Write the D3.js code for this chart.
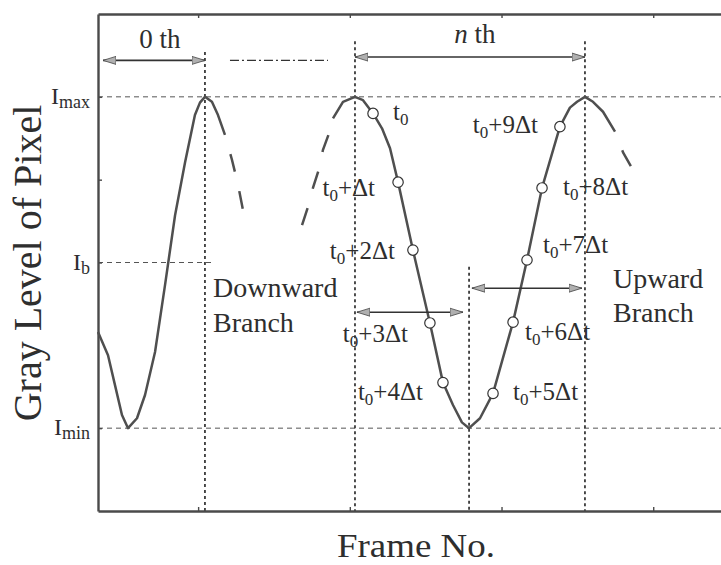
<!DOCTYPE html>
<html>
<head>
<meta charset="utf-8">
<script src="https://cdn.jsdelivr.net/npm/d3@7"></script>
<style>
  body { margin: 0; background: #fff; }
  text { font-family: "Liberation Serif", "Times New Roman", serif; fill: #2e2e2e; }
</style>
</head>
<body>
<svg id="chart" width="721" height="565"></svg>
<script>
// ---- gray level trace: frame number vs. gray level (Imin = 1, Ib = 3, Imax = 5) ----
// 0th cycle, drawn solid
const cycle0Frames = [3.40, 4.06, 4.52, 4.98, 5.38, 5.97, 6.50, 7.16, 7.82, 8.48, 9.14, 9.79, 10.12, 10.45, 10.91, 11.31, 11.77];
const cycle0Levels = [2.16, 1.88, 1.52, 1.16, 1.00, 1.12, 1.40, 1.92, 2.73, 3.57, 4.21, 4.78, 4.93, 5.00, 4.94, 4.78, 4.54];
// continuation after the 0th peak, drawn dashed
const cycle0TailFrames = [11.77, 12.23, 12.63, 12.96];
const cycle0TailLevels = [4.54, 4.24, 3.94, 3.63];
// approach to the nth peak, drawn dashed
const cycleNLeadFrames = [16.85, 17.24, 17.57, 17.97, 18.23, 18.69, 18.89];
const cycleNLeadLevels = [3.45, 3.67, 3.90, 4.13, 4.36, 4.59, 4.74];
// nth cycle, drawn solid
const cycleNFrames = [18.89, 19.55, 20.34, 20.87, 21.53, 22.12, 22.65, 23.18, 24.16, 25.28, 26.14, 26.80, 27.39, 27.86, 28.58, 29.44, 30.76, 31.68, 32.67, 33.85, 34.51, 34.98, 35.50, 36.03, 36.69, 37.48];
const cycleNLevels = [4.74, 4.94, 5.00, 4.96, 4.80, 4.62, 4.38, 3.97, 3.15, 2.27, 1.55, 1.28, 1.07, 1.00, 1.12, 1.42, 2.28, 3.03, 3.90, 4.64, 4.87, 4.94, 5.00, 4.94, 4.82, 4.58];
// continuation after the nth cycle, drawn dashed
const cycleNTailFrames = [37.48, 38.01, 38.60];
const cycleNTailLevels = [4.58, 4.33, 4.14];

// sampled instants t0 ... t0+9Δt on the nth cycle
const sampleFrames = [21.53, 23.18, 24.16, 25.28, 26.14, 29.44, 30.76, 31.68, 32.67, 33.85];
const sampleLevels = [4.80, 3.97, 3.15, 2.27, 1.55, 1.42, 2.28, 3.03, 3.90, 4.64];
const sampleSteps  = [0, 1, 2, 3, 4, 5, 6, 7, 8, 9];

// axis ticks and level names
const xTickValues = [10, 20, 30, 40];
const yTickValues = [1, 3, 4, 5];
const levelNames  = [{ v: 5, sub: "max" }, { v: 3, sub: "b" }, { v: 1, sub: "min" }];

// peaks / trough used for the cycle markers
const peak0Frame = 10.45, peakNFrame = 20.34, peakN1Frame = 35.50, troughNFrame = 27.86;

// ---- layout ----
const svg = d3.select("#chart");
const plotLeft = 98, plotTop = 14, plotBottom = 511;
const x = d3.scaleLinear().domain([3.4, 45.0]).range([plotLeft, plotLeft + 41.6 * 15.17]);
const y = d3.scaleLinear().domain([0, 6]).range([plotBottom, plotTop]);

const ink = "#333";

// arrow head
const defs = svg.append("defs");
defs.append("marker")
  .attr("id", "head")
  .attr("viewBox", "0 -5 14 10")
  .attr("markerUnits", "userSpaceOnUse")
  .attr("markerWidth", 14).attr("markerHeight", 10)
  .attr("refX", 13).attr("refY", 0)
  .attr("orient", "auto-start-reverse")
  .append("path")
  .attr("d", "M0,-4L13,0L0,4Z")
  .attr("fill", "#b0b0b0").attr("stroke", "#444").attr("stroke-width", 0.8);

// ---- reference levels (dashed) ----
const refG = svg.append("g").attr("stroke", "#555").attr("stroke-width", 1).attr("stroke-dasharray", "5,4").attr("fill", "none");
[[5, 3.4, 45], [1, 3.4, 45], [3, 3.4, 11.11]].forEach(([v, f0, f1]) => {
  refG.append("line").attr("x1", x(f0)).attr("x2", x(f1)).attr("y1", y(v)).attr("y2", y(v));
});

// ---- cycle boundaries (dotted verticals) ----
const vG = svg.append("g").attr("stroke", "#222").attr("stroke-width", 1.6).attr("stroke-dasharray", "3,3").attr("fill", "none");
[[peak0Frame, 5.54], [peakNFrame, 5.67], [peakN1Frame, 5.67], [troughNFrame, 2.95]].forEach(([f, vTop]) => {
  vG.append("line").attr("x1", x(f)).attr("x2", x(f)).attr("y1", y(vTop)).attr("y2", y(0));
});

// ---- axes (ticks point inward, no numbers) ----
function styleAxis(g) {
  g.select(".domain").attr("stroke", "#4a4a4a").attr("stroke-width", 2.4);
  g.selectAll(".tick line").attr("stroke", "#4a4a4a").attr("stroke-width", 1.4);
  g.selectAll(".tick text").remove();
}
svg.append("g").attr("transform", `translate(0,${plotBottom})`)
  .call(d3.axisBottom(x).tickValues(xTickValues).tickSizeInner(-4).tickSizeOuter(0).tickFormat(""))
  .call(styleAxis);
svg.append("g").attr("transform", `translate(0,${plotTop})`)
  .call(d3.axisTop(x).tickValues(xTickValues).tickSizeInner(-4).tickSizeOuter(0).tickFormat(""))
  .call(styleAxis);
svg.append("g").attr("transform", `translate(${plotLeft},0)`)
  .call(d3.axisLeft(y).tickValues(yTickValues).tickSizeInner(-4).tickSizeOuter(0).tickFormat(""))
  .call(styleAxis);

// level names I_max, I_b, I_min
levelNames.forEach(d => {
  const t = svg.append("text").attr("x", plotLeft - 8).attr("y", y(d.v) + 7)
    .attr("text-anchor", "end").attr("font-size", 24);
  t.append("tspan").text("I");
  t.append("tspan").attr("font-size", 18).attr("dy", 4).text(d.sub);
});

// ---- trace ----
const line = d3.line().x(d => x(d[0])).y(d => y(d[1])).curve(d3.curveLinear);
const zip = (a, b) => a.map((v, i) => [v, b[i]]);
const traceStyle = p => p.attr("fill", "none").attr("stroke", "#4f4f4f").attr("stroke-width", 2.5)
  .attr("stroke-linejoin", "round").attr("stroke-linecap", "butt");

svg.append("path").datum(zip(cycle0Frames, cycle0Levels)).attr("d", line).call(traceStyle);
svg.append("path").datum(zip(cycleNFrames, cycleNLevels)).attr("d", line).call(traceStyle);
svg.append("path").datum(zip(cycle0TailFrames, cycle0TailLevels)).attr("d", line).call(traceStyle)
  .attr("stroke-dasharray", "18,20").attr("stroke-dashoffset", 18);
svg.append("path").datum(zip(cycleNLeadFrames, cycleNLeadLevels)).attr("d", line).call(traceStyle)
  .attr("stroke-dasharray", "18,20");
svg.append("path").datum(zip(cycleNTailFrames, cycleNTailLevels)).attr("d", line).call(traceStyle)
  .attr("stroke-dasharray", "18,20").attr("stroke-dashoffset", 18);

// ---- sampled instants ----
const labelPlacement = [[20, 7, "start"], [-23, 14, "end"], [-18, 9, "end"], [-22, 19, "end"], [-20, 17, "end"],
                        [20, 7, "start"], [12, 18, "start"], [16, -7, "start"], [21, 7, "start"], [-22, 6, "end"]];
sampleFrames.forEach((f, i) => {
  const cx = x(f), cy = y(sampleLevels[i]);
  const [dx, dy, anchor] = labelPlacement[i];
  const t = svg.append("text").attr("x", cx + dx).attr("y", cy + dy)
    .attr("text-anchor", anchor).attr("font-size", 25);
  t.append("tspan").text("t");
  t.append("tspan").attr("font-size", 17).attr("dy", 5).text("0");
  const k = sampleSteps[i];
  if (k > 0) t.append("tspan").attr("dy", -5).text("+" + (k === 1 ? "" : k) + "\u0394t");
});
svg.append("g").selectAll("circle")
  .data(sampleFrames.map((f, i) => [f, sampleLevels[i]]))
  .join("circle")
  .attr("cx", d => x(d[0])).attr("cy", d => y(d[1])).attr("r", 5.2)
  .attr("fill", "#fff").attr("stroke", "#333").attr("stroke-width", 1.2);

// ---- period / branch arrows ----
function arrow(f0, f1, v) {
  svg.append("line").attr("x1", x(f0)).attr("x2", x(f1)).attr("y1", y(v)).attr("y2", y(v))
    .attr("stroke", ink).attr("stroke-width", 1.6)
    .attr("marker-start", "url(#head)").attr("marker-end", "url(#head)");
}
arrow(3.73, peak0Frame, 5.44);          // 0th period
arrow(peakNFrame, peakN1Frame, 5.48);   // nth period
arrow(20.47, 27.46, 2.40);              // downward branch
arrow(28.05, 35.30, 2.69);              // upward branch

// omitted cycles in between
svg.append("line").attr("x1", x(12.10)).attr("x2", x(18.56)).attr("y1", y(5.44)).attr("y2", y(5.44))
  .attr("stroke", ink).attr("stroke-width", 1.3).attr("stroke-dasharray", "9,3,2,3");

// ---- annotations ----
svg.append("text").attr("x", 160).attr("y", 48).attr("text-anchor", "middle").attr("font-size", 27).text("0 th");
const nth = svg.append("text").attr("x", 475).attr("y", 43).attr("text-anchor", "middle").attr("font-size", 27);
nth.append("tspan").attr("font-style", "italic").text("n");
nth.append("tspan").text(" th");

svg.append("text").attr("x", 213).attr("y", 297).attr("font-size", 28).text("Downward");
svg.append("text").attr("x", 213).attr("y", 332).attr("font-size", 28).text("Branch");
svg.append("text").attr("x", 613).attr("y", 288).attr("font-size", 28).text("Upward");
svg.append("text").attr("x", 613).attr("y", 322).attr("font-size", 28).text("Branch");

// axis titles
svg.append("text").attr("text-anchor", "middle").attr("font-size", 40)
  .attr("transform", `translate(41,${263}) rotate(-90)`).text("Gray Level of Pixel");
svg.append("text").attr("x", 416).attr("y", 557).attr("text-anchor", "middle").attr("font-size", 33)
  .attr("textLength", 158).attr("lengthAdjust", "spacingAndGlyphs").text("Frame No.");
</script>
</body>
</html>
